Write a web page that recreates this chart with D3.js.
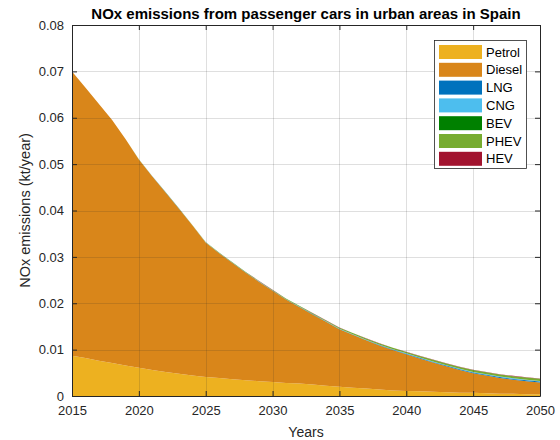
<!DOCTYPE html>
<html>
<head>
<meta charset="utf-8">
<script src="https://cdn.jsdelivr.net/npm/d3@7"></script>
<style>
  html, body { margin: 0; padding: 0; background: #fff; }
  svg { display: block; font-family: "Liberation Sans", Arial, sans-serif; }
</style>
</head>
<body>
<svg id="chart" width="560" height="440"></svg>
<script>
const years = d3.range(2015, 2051);
const seriesNames = ["Petrol", "Diesel", "LNG", "CNG", "BEV", "PHEV", "HEV"];
const seriesColors = ["#EDB120", "#D9861A", "#0072BD", "#4DBEEE", "#008000", "#77AC30", "#A2142F"];
const petrol = [0.0087,0.0082,0.0076,0.0071,0.0066,0.0061,0.0056,0.0052,0.0048,0.0044,0.0041,0.0039,0.0036,0.0034,0.0032,0.0030,0.0028,0.0027,0.0025,0.0022,0.0020,0.0018,0.0016,0.0014,0.0012,0.0011,0.0010,0.0009,0.0008,0.0007,0.0007,0.0006,0.0005,0.0005,0.0004,0.0004];
const diesel = [0.0613,0.0583,0.0554,0.0524,0.0488,0.0449,0.0418,0.0387,0.0356,0.0324,0.0290,0.0269,0.0251,0.0232,0.0214,0.0197,0.0180,0.0165,0.0151,0.0138,0.0124,0.0114,0.0104,0.0095,0.0087,0.0079,0.0071,0.0063,0.0056,0.0049,0.0042,0.0038,0.0034,0.0030,0.0028,0.0025];
const lng = [0,0,0,0.00001,0.00001,0.00001,0.00001,0.00002,0.00002,0.00002,0.00002,0.00003,0.00003,0.00003,0.00004,0.00004,0.00005,0.00005,0.00006,0.00006,0.00007,0.00008,0.00009,0.0001,0.00011,0.00012,0.00013,0.00014,0.00015,0.00016,0.00017,0.00018,0.00018,0.00019,0.00019,0.0002];
const cng = [0,0,0,0,0.00001,0.00001,0.00001,0.00001,0.00001,0.00002,0.00002,0.00002,0.00002,0.00002,0.00003,0.00003,0.00003,0.00004,0.00004,0.00005,0.00005,0.00006,0.00006,0.00007,0.00008,0.00008,0.00009,0.0001,0.0001,0.00011,0.00011,0.00012,0.00012,0.00013,0.00013,0.00014];
const bev = [0,0,0,0,0,0,0,0,0,0,0,0,0,0,0,0,0,0,0,0,0,0,0,0,0,0,0,0,0,0,0,0,0,0,0,0];
const phev = [0,0.00001,0.00001,0.00002,0.00002,0.00002,0.00003,0.00004,0.00005,0.00005,0.00006,0.00007,0.00008,0.00009,0.0001,0.00011,0.00013,0.00015,0.00017,0.00019,0.00021,0.00023,0.00025,0.00027,0.00029,0.00031,0.00033,0.00035,0.00037,0.00039,0.0004,0.00042,0.00043,0.00044,0.00045,0.00046];
const hev = [0,0,0,0,0,0.00001,0.00001,0.00001,0.00001,0.00001,0.00001,0.00001,0.00001,0.00001,0.00002,0.00002,0.00002,0.00002,0.00003,0.00003,0.00003,0.00004,0.00004,0.00004,0.00005,0.00005,0.00005,0.00006,0.00006,0.00006,0.00007,0.00007,0.00007,0.00008,0.00008,0.00008];
const xTicks = [2015, 2020, 2025, 2030, 2035, 2040, 2045, 2050];
const yTicks = [0, 0.01, 0.02, 0.03, 0.04, 0.05, 0.06, 0.07, 0.08];
const yTickLabels = ["0", "0.01", "0.02", "0.03", "0.04", "0.05", "0.06", "0.07", "0.08"];
const titleText = "NOx emissions from passenger cars in urban areas in Spain";
const xLabelText = "Years";
const yLabelText = "NOx emissions (kt/year)";

const seriesValues = [petrol, diesel, lng, cng, bev, phev, hev];
const table = years.map((yr, i) => {
  const row = { year: yr };
  seriesNames.forEach((n, k) => row[n] = seriesValues[k][i]);
  return row;
});

const svg = d3.select("#chart");
const L = 72, R = 540, T = 25, B = 396;
const x = d3.scaleLinear().domain([2015, 2050]).range([L, R]);
const y = d3.scaleLinear().domain([0, 0.08]).range([B, T]);
const axisColor = "#262626";

const stack = d3.stack().keys(seriesNames);
const layers = stack(table);
const area = d3.area()
  .x(d => x(d.data.year))
  .y0(d => y(d[0]))
  .y1(d => y(d[1]));

const plot = svg.append("g");
plot.selectAll("path.layer").data(layers).join("path")
  .attr("class", "layer")
  .attr("d", area)
  .attr("fill", (d, i) => seriesColors[i]);

// grid on top
const grid = svg.append("g").attr("stroke", "#262626").attr("stroke-opacity", 0.15).attr("stroke-width", 1);
xTicks.forEach(t => grid.append("line").attr("x1", Math.round(x(t)) + 0.5).attr("x2", Math.round(x(t)) + 0.5).attr("y1", T).attr("y2", B));
yTicks.forEach(t => grid.append("line").attr("y1", Math.round(y(t)) + 0.5).attr("y2", Math.round(y(t)) + 0.5).attr("x1", L).attr("x2", R));

// axes
const fmtY = (d, i) => yTickLabels[yTicks.indexOf(d)];
const xAxisB = d3.axisBottom(x).tickValues(xTicks).tickFormat(d3.format("d")).tickSizeInner(-5).tickSizeOuter(0).tickPadding(10);
const xAxisT = d3.axisTop(x).tickValues(xTicks).tickFormat("").tickSizeInner(-5).tickSizeOuter(0);
const yAxisL = d3.axisLeft(y).tickValues(yTicks).tickFormat(fmtY).tickSizeInner(-5).tickSizeOuter(0).tickPadding(8);
const yAxisR = d3.axisRight(y).tickValues(yTicks).tickFormat("").tickSizeInner(-5).tickSizeOuter(0);

function styleAxis(g) {
  g.selectAll("path.domain").attr("stroke", axisColor);
  g.selectAll(".tick line").attr("stroke", axisColor);
  g.selectAll("text").attr("fill", axisColor).style("font-size", "13px").style("font-family", "Liberation Sans, Arial, sans-serif");
}
svg.append("g").attr("transform", `translate(0,${B})`).call(xAxisB).call(styleAxis);
svg.append("g").attr("transform", `translate(0,${T})`).call(xAxisT).call(styleAxis);
svg.append("g").attr("transform", `translate(${L},0)`).call(yAxisL).call(styleAxis);
svg.append("g").attr("transform", `translate(${R},0)`).call(yAxisR).call(styleAxis);

// title and labels
svg.append("text").attr("x", (L + R) / 2).attr("y", 19).attr("text-anchor", "middle")
  .style("font-size", "15px").style("font-weight", "bold").attr("fill", "#000").text(titleText);
svg.append("text").attr("x", (L + R) / 2).attr("y", 437).attr("text-anchor", "middle")
  .style("font-size", "14px").attr("fill", axisColor).text(xLabelText);
svg.append("text").attr("transform", `translate(30,${(T + B) / 2}) rotate(-90)`).attr("text-anchor", "middle")
  .style("font-size", "14.5px").attr("fill", axisColor).text(yLabelText);

// legend
const lg = svg.append("g");
lg.append("rect").attr("x", 434.5).attr("y", 40.5).attr("width", 92).attr("height", 128)
  .attr("fill", "#fff").attr("stroke", axisColor).attr("stroke-width", 0.8);
seriesNames.forEach((n, i) => {
  const cy = 52 + i * 17.8;
  lg.append("rect").attr("x", 439).attr("y", cy - 7).attr("width", 43).attr("height", 14).attr("fill", seriesColors[i]);
  lg.append("text").attr("x", 486).attr("y", cy + 4.5).style("font-size", "13px").attr("fill", "#000").text(n);
});
</script>
</body>
</html>
